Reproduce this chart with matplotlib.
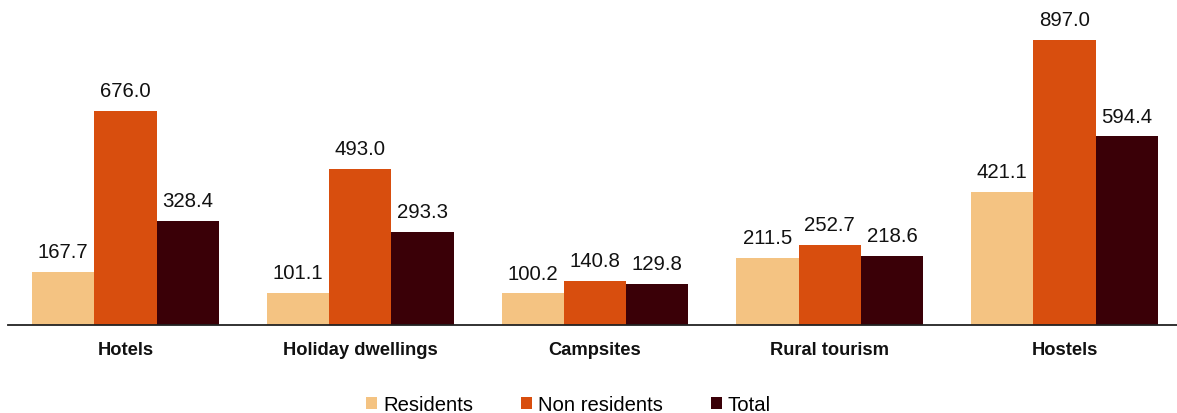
import matplotlib
matplotlib.use("Agg")
import matplotlib.pyplot as plt
import numpy as np
from matplotlib.patches import Patch

categories = ["Hotels", "Holiday dwellings", "Campsites", "Rural tourism", "Hostels"]
residents = [167.7, 101.1, 100.2, 211.5, 421.1]
non_residents = [676.0, 493.0, 140.8, 252.7, 897.0]
total = [328.4, 293.3, 129.8, 218.6, 594.4]
series_names = ["Residents", "Non residents", "Total"]
colors = ["#F4C382", "#D84E0E", "#3A0007"]

plt.rcParams['font.family'] = ['Liberation Sans', 'DejaVu Sans']

W, H = 1177, 414
fig = plt.figure(figsize=(W / 100, H / 100), dpi=100)
base_y = 326.3
left_px = 8.1
ax = fig.add_axes([left_px / W, (H - base_y) / H, (W - left_px) / W, base_y / H])

x = np.arange(len(categories))
bw = 0.265
for i, (vals, c) in enumerate(zip([residents, non_residents, total], colors)):
    bars = ax.bar(x + (i - 1) * bw, vals, width=bw, color=c, edgecolor='none', zorder=2)
    for b, v in zip(bars, vals):
        ax.annotate(f"{v:.1f}", (b.get_x() + b.get_width() / 2, v), xytext=(0, 7.8),
                    textcoords='offset points', ha='center', va='bottom', fontsize=14.7, color='#111111')

ax.set_xlim(-0.5, (W - 125.5) / 234.75)
ax.set_ylim(0, base_y / 0.3177)
for s in ['top', 'right', 'left']:
    ax.spines[s].set_visible(False)
ax.spines['bottom'].set_color('#222222')
ax.spines['bottom'].set_linewidth(1.3)
ax.set_yticks([])
ax.set_xticks(x)
ax.set_xticklabels(categories, fontsize=13.2, fontweight='bold', color='#111111')
ax.tick_params(axis='x', length=0, pad=11.5)

handles = [Patch(facecolor=c, edgecolor='none') for c in colors]
fig.legend(handles, series_names, loc='center', bbox_to_anchor=(568.5 / W, 1 - 405.5 / H),
           ncol=3, frameon=False, fontsize=14.6, handlelength=0.55, handleheight=0.55,
           handletextpad=0.3, columnspacing=2.35, borderpad=0.2)

fig.savefig("out.png", dpi=100)
